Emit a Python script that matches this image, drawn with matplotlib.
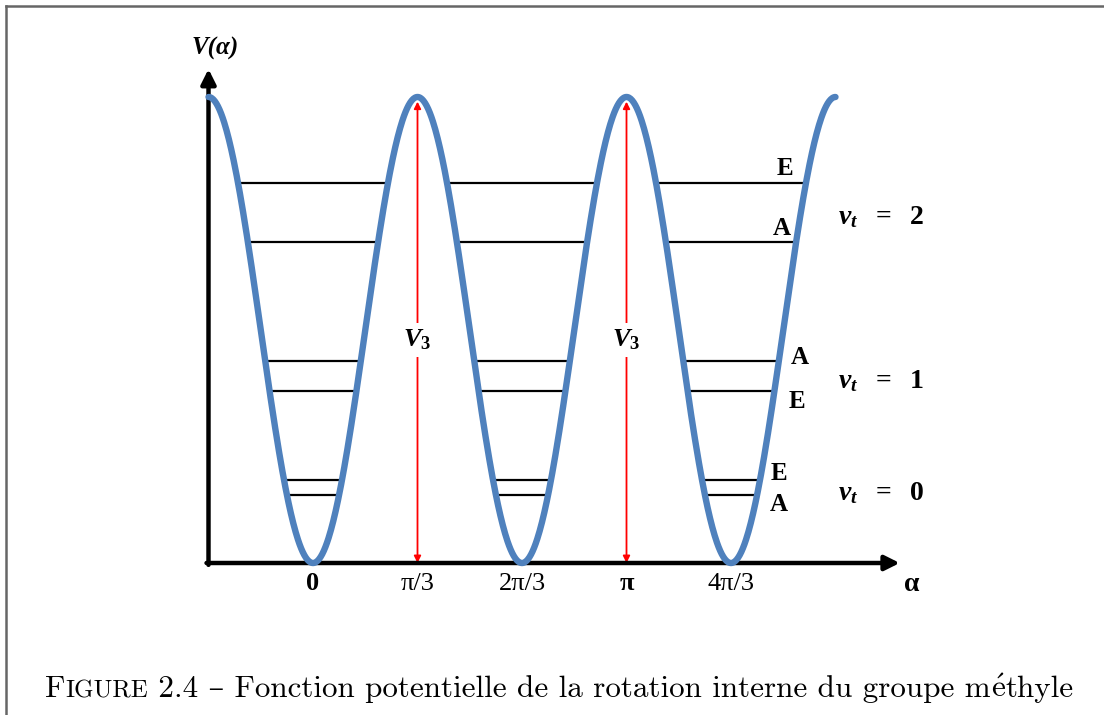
import matplotlib
matplotlib.use("Agg")
import matplotlib.pyplot as plt
from matplotlib.lines import Line2D
import numpy as np

plt.rcParams['mathtext.fontset'] = 'custom'
plt.rcParams['mathtext.rm'] = 'Liberation Serif:bold'
plt.rcParams['mathtext.it'] = 'Liberation Serif:bold:italic'
plt.rcParams['mathtext.bf'] = 'Liberation Serif:bold'

# torsional barrier (units of V3) and energy levels of the methyl rotor
V3 = 1.0
tick_pos = [0, np.pi / 3, 2 * np.pi / 3, np.pi, 4 * np.pi / 3]
tick_labels = ['0', 'π/3', '2π/3', 'π', '4π/3']
tick_bold = [True, False, False, True, False]
level_E = [0.146, 0.178, 0.369, 0.433, 0.689, 0.815]
level_sym = ['A', 'E', 'E', 'A', 'A', 'E']
well_centres = [0, 2 * np.pi / 3, 4 * np.pi / 3]
vt_labels = [r'$v_t\ \ =\ \ 2$', r'$v_t\ \ =\ \ 1$', r'$v_t\ \ =\ \ 0$']
vt_E = [0.745, 0.393, 0.153]
barrier_pos = [np.pi / 3, np.pi]

W, H = 1104, 715
fig = plt.figure(figsize=(W / 100, H / 100), dpi=100)
ax = fig.add_axes([0, 0, 1, 1])
ax.axis('off')

# pixel scale of the drawing: alpha = 0 at x=313, pi/3 every 104.5 px; V = 0 at y=563, V3 at y=97
ppr = 104.5 / (np.pi / 3)
ppv = 466.0
ax.set_xlim(-313 / ppr, (W - 313) / ppr)
ax.set_ylim(-(H - 563) / ppv, 563 / ppv)

black = '#000000'
blue = '#4f81bd'
red = '#ff0000'

# axes with arrow heads
a0 = -np.pi / 3
ax.annotate('', xy=(a0, 1.06), xytext=(a0, -0.004),
            arrowprops=dict(arrowstyle='-|>', lw=3.2, color=black, mutation_scale=22, shrinkA=0, shrinkB=0))
ax.annotate('', xy=(5.88, 0), xytext=(a0 - 0.02, 0),
            arrowprops=dict(arrowstyle='-|>', lw=3.2, color=black, mutation_scale=22, shrinkA=0, shrinkB=0))

# potential V(alpha) = V3/2 (1 - cos 3 alpha)
alpha = np.linspace(-np.pi / 3, 5 * np.pi / 3, 800)
V = V3 / 2 * (1 - np.cos(3 * alpha))

# energy levels inside each well
label_offsets = [(22, -10), (19, 7), (23, -10), (21, 4), (-14, 13), (-21, 15)]
for E, sym, off in zip(level_E, level_sym, label_offsets):
    half = np.arccos(1 - 2 * E / V3) / 3
    for c in well_centres:
        ax.plot([c - half, c + half], [E, E], color=black, lw=1.6, zorder=2)
    ax.annotate(sym, xy=(well_centres[-1] + half, E), xytext=off, textcoords='offset pixels',
                ha='center', va='center', fontsize=18, fontweight='bold', family='Liberation Serif')

ax.plot(alpha, V, color=blue, lw=4.6, solid_capstyle='round', zorder=3)

# barrier height arrows
for b in barrier_pos:
    ax.annotate('', xy=(b, V3 - 0.01), xytext=(b, 0.0),
                arrowprops=dict(arrowstyle='<|-|>', lw=1.3, color=red, mutation_scale=10,
                                shrinkA=0, shrinkB=0), zorder=2)
    ax.text(b, 0.479, r'$V_3$', ha='center', va='center', fontsize=19,
            bbox=dict(facecolor='white', edgecolor='none', pad=3), zorder=4)

for lab, E in zip(vt_labels, vt_E):
    ax.text((838 - 313) / ppr, E, lab, ha='left', va='center', fontsize=20)

for p, lab, bold in zip(tick_pos, tick_labels, tick_bold):
    ax.text(p, -0.045, lab, ha='center', va='center', fontsize=19,
            fontweight='bold' if bold else 'normal', family='Liberation Serif')

ax.text((912 - 313) / ppr, -0.047, 'α', ha='center', va='center', fontsize=20,
        fontweight='bold', family='Liberation Serif')
ax.text((215 - 313) / ppr, (563 - 48) / ppv, 'V(α)', ha='center', va='center', fontsize=18,
        fontweight='bold', style='italic', family='Liberation Serif')

# page frame
fig.add_artist(Line2D([6 / W, 1.0], [1 - 6 / H, 1 - 6 / H], color='#666666', lw=1.8))
fig.add_artist(Line2D([6 / W, 6 / W], [0, 1 - 6 / H], color='#666666', lw=1.8))

# caption in small caps
cap_font = ['cmr10', 'DejaVu Serif']
fs = 22.4
renderer = fig.canvas.get_renderer()
x = 45.0
yb = (H - 697) / H
parts = [('F', fs, None), ('IGURE', fs * 0.8, None),
         (' 2.4 – Fonction potentielle de la rotation interne du groupe m', fs, None),
         (r'$\mathrm{\acute{e}}$', fs, 'cm'), ('thyle', fs, None)]
for s, size, mfont in parts:
    kw = {'math_fontfamily': mfont} if mfont else {}
    t = fig.text(x / W, yb, s, fontsize=size, family=cap_font, va='baseline', ha='left', **kw)
    bb = t.get_window_extent(renderer)
    x += bb.width

fig.savefig('out.png', dpi=100)
